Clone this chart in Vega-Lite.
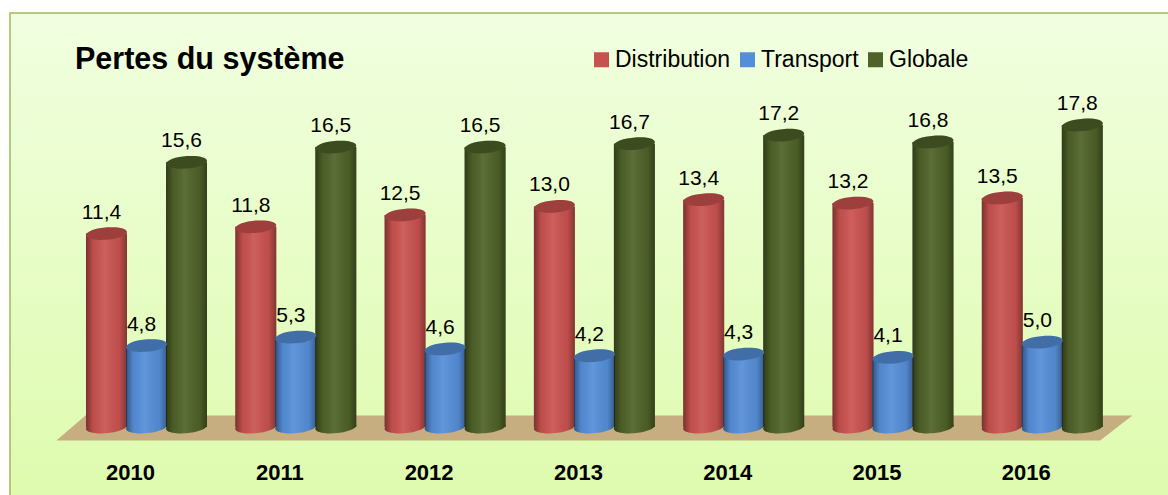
{
"$schema":"https://vega.github.io/schema/vega-lite/v6.json",
"width":1160,"height":484,
"padding":{"left":10,"top":13,"right":0,"bottom":0},
"autosize":{"type":"none"},
"background":"#ffffff",
"view":{"fill":{"gradient":"linear","x1":0,"y1":0,"x2":0,"y2":1,"stops":[{"offset":0,"color":"#F1FFE0"},{"offset":1,"color":"#DEFBAE"}]},"stroke":"#9BBB59","strokeWidth":1.5},
"title":{"text":"Pertes du système","anchor":"start","frame":"group","dx":65,"dy":66,"font":"Liberation Sans","fontSize":30.5,"fontWeight":"bold","color":"#000000"},
"config":{"font":"Liberation Sans"},
"data":{"values":[
{"annee":"2010","serie":"Distribution","valeur":11.4,"libelle":"11,4"},{"annee":"2010","serie":"Transport","valeur":4.8,"libelle":"4,8"},{"annee":"2010","serie":"Globale","valeur":15.6,"libelle":"15,6"},
{"annee":"2011","serie":"Distribution","valeur":11.8,"libelle":"11,8"},{"annee":"2011","serie":"Transport","valeur":5.3,"libelle":"5,3"},{"annee":"2011","serie":"Globale","valeur":16.5,"libelle":"16,5"},
{"annee":"2012","serie":"Distribution","valeur":12.5,"libelle":"12,5"},{"annee":"2012","serie":"Transport","valeur":4.6,"libelle":"4,6"},{"annee":"2012","serie":"Globale","valeur":16.5,"libelle":"16,5"},
{"annee":"2013","serie":"Distribution","valeur":13.0,"libelle":"13,0"},{"annee":"2013","serie":"Transport","valeur":4.2,"libelle":"4,2"},{"annee":"2013","serie":"Globale","valeur":16.7,"libelle":"16,7"},
{"annee":"2014","serie":"Distribution","valeur":13.4,"libelle":"13,4"},{"annee":"2014","serie":"Transport","valeur":4.3,"libelle":"4,3"},{"annee":"2014","serie":"Globale","valeur":17.2,"libelle":"17,2"},
{"annee":"2015","serie":"Distribution","valeur":13.2,"libelle":"13,2"},{"annee":"2015","serie":"Transport","valeur":4.1,"libelle":"4,1"},{"annee":"2015","serie":"Globale","valeur":16.8,"libelle":"16,8"},
{"annee":"2016","serie":"Distribution","valeur":13.5,"libelle":"13,5"},{"annee":"2016","serie":"Transport","valeur":5.0,"libelle":"5,0"},{"annee":"2016","serie":"Globale","valeur":17.8,"libelle":"17,8"}
]},
"encoding":{
"x":{"field":"annee","type":"nominal","scale":{"range":[61.85,1106.95],"paddingInner":0,"paddingOuter":0},
"axis":{"title":null,"domain":false,"ticks":false,"labelAngle":0,"labelOffset":-16,"offset":-35,"labelPadding":0,"labelFontSize":22,"labelFontWeight":"bold","labelColor":"#000000","labelFont":"Liberation Sans","grid":false,"labelBaseline":"top"}},
"xOffset":{"field":"serie","type":"nominal","scale":{"domain":["Distribution","Transport","Globale"],"paddingInner":0,"paddingOuter":0.366}},
"y":{"field":"valeur","type":"quantitative","scale":{"domain":[0,17.8],"range":[414,112],"nice":false},"axis":null}
},
"layer":[
{"data":{"values":[{"annee":"2013","serie":"Transport","valeur":0}]},
 "mark":{"type":"point","filled":true,"opacity":1,"size":1157776,"color":"#C6AE80","shape":"M-1,0.025 L-0.946,-0.0215 L1,-0.0215 L0.94,0.025 Z"}},
{"mark":{"type":"point","filled":true,"opacity":1,"size":1681,"shape":"M-1,0.07 A1,0.3 -5 1 1 1,-0.07 A1,0.3 -5 1 1 -1,0.07 Z"},
 "encoding":{"y":{"datum":0,"type":"quantitative"},"color":{"field":"serie","type":"nominal","scale":{"domain":["Distribution","Transport","Globale"],"range":["#C9524F","#558ED8","#4F6228"]}}}},
{"mark":{"type":"point","filled":true,"opacity":1,"size":1681,"shape":"M-1,0.07 A1,0.3 -5 1 1 1,-0.07 A1,0.3 -5 1 1 -1,0.07 Z","color":{"gradient":"linear","x1":0,"y1":0,"x2":1,"y2":0,"stops":[{"offset":0,"color":"rgba(0,0,0,0.4)"},{"offset":0.18,"color":"rgba(0,0,0,0.05)"},{"offset":0.45,"color":"rgba(255,255,255,0.08)"},{"offset":0.82,"color":"rgba(0,0,0,0.06)"},{"offset":1,"color":"rgba(0,0,0,0.35)"}]}},
 "encoding":{"y":{"datum":0,"type":"quantitative"}}},
{"mark":{"type":"bar","width":41},
 "encoding":{"color":{"field":"serie","type":"nominal","scale":{"domain":["Distribution","Transport","Globale"],"range":["#C9524F","#558ED8","#4F6228"]},
 "legend":{"title":null,"orient":"none","legendX":580,"legendY":35,"direction":"horizontal","columns":3,"symbolType":"square","symbolSize":225,"symbolStrokeWidth":0,"labelFontSize":23,"labelColor":"#000000","labelOffset":2,"columnPadding":5,"labelFont":"Liberation Sans"}}}},
{"mark":{"type":"bar","width":41,"color":{"gradient":"linear","x1":0,"y1":0,"x2":1,"y2":0,"stops":[{"offset":0,"color":"rgba(0,0,0,0.4)"},{"offset":0.18,"color":"rgba(0,0,0,0.05)"},{"offset":0.45,"color":"rgba(255,255,255,0.08)"},{"offset":0.82,"color":"rgba(0,0,0,0.06)"},{"offset":1,"color":"rgba(0,0,0,0.35)"}]}}},
{"mark":{"type":"point","filled":true,"opacity":1,"size":1681,"shape":"M-1,0.07 A1,0.3 -5 1 1 1,-0.07 A1,0.3 -5 1 1 -1,0.07 Z"},
 "encoding":{"color":{"field":"serie","type":"nominal","scale":{"domain":["Distribution","Transport","Globale"],"range":["#C9524F","#558ED8","#4F6228"]}}}},
{"mark":{"type":"point","filled":true,"opacity":0.22,"color":"#000000","size":1681,"shape":"M-1,0.07 A1,0.3 -5 1 1 1,-0.07 A1,0.3 -5 1 1 -1,0.07 Z"}},
{"mark":{"type":"text","font":"Liberation Sans","fontSize":21,"color":"#000000","dx":-5,"dy":-21,"baseline":"middle"},
 "encoding":{"text":{"field":"libelle","type":"nominal"}}}
]
}
